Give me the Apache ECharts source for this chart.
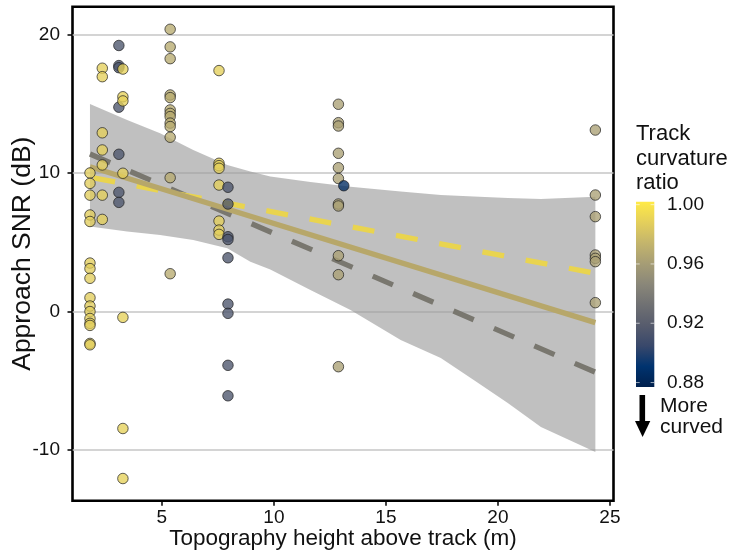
<!DOCTYPE html>
<html>
<head>
<meta charset="utf-8">
<script src="https://cdn.jsdelivr.net/npm/echarts@6/dist/echarts.min.js"></script>
<style>
  html, body { margin: 0; padding: 0; background: #ffffff; }
  #chart { width: 735px; height: 558px; }
</style>
</head>
<body>
<div id="chart"></div>
<script>
// Cividis palette used for the track curvature ratio
const cividis = ['#00204D', '#00336F', '#39486B', '#575C6D', '#707173',
                 '#8A8779', '#A69D75', '#C4B56C', '#E4CF5B', '#FFEA46'];
const ratioRange = [0.877, 1.002];
const colorTicks = [1.00, 0.96, 0.92, 0.88];

// Axis ticks
const xTicks = [5, 10, 15, 20, 25];
const yTicks = [-10, 0, 10, 20];

// Observation sites: topography height (m) and curvature ratio of the tracks there
const siteHeight = [1.79, 2.34, 3.08, 3.26, 5.37, 7.55, 7.95, 12.88, 13.12, 24.35];
const siteRatio  = [0.987, 0.988, 0.913, 0.989, 0.968, 0.988, 0.913, 0.962, 0.885, 0.962];

// Approach SNR (dB) of each track at each site
const siteSnr = [
  [10.0, 9.25, 8.4, 6.97, 6.5, 3.5, 3.1, 2.4, 1.0, 0.4, 0.0, -0.5, -0.85, -1.0, -2.3, -2.4],
  [17.56, 16.95, 12.9, 11.66, 10.58, 8.4, 6.65],
  [19.2, 17.75, 17.6, 14.75, 11.35, 8.6, 7.88],
  [17.5, 15.5, 15.2, 9.98, -0.42, -8.44, -12.05],
  [20.37, 19.1, 18.25, 15.63, 15.44, 14.55, 14.3, 14.07, 13.6, 13.35, 12.58, 9.66, 2.73],
  [17.39, 10.7, 10.53, 10.34, 9.13, 6.53, 5.88, 5.57],
  [8.97, 7.76, 5.4, 5.2, 3.88, 0.54, -0.13, -3.88, -6.08],
  [14.96, 13.63, 13.39, 11.42, 10.38, 9.6, 7.76, 7.62, 4.03, 2.66, -3.98],
  [9.08],
  [13.1, 8.41, 6.85, 4.08, 3.84, 3.6, 0.64]
];

// Linear fits: all tracks, curved tracks, straight tracks
const fitHeight   = [1.79, 24.35];
const fitAll      = [10.45, -0.8];
const fitCurved   = [11.37, -4.38];
const fitStraight = [9.7, 2.76];

// Confidence band of the overall fit
const bandHeight = [1.79, 3.45, 4.92, 6.40, 7.92, 8.95, 9.84, 11.63, 13.42, 15.66, 17.45, 18.92, 20.44, 21.92, 24.35];
const bandUpper  = [14.98, 13.83, 12.87, 11.66, 10.58, 10.10, 9.74, 9.35, 9.01, 8.67, 8.42, 8.31, 8.20, 8.13, 8.29];
const bandLower  = [6.13, 5.77, 5.53, 5.17, 4.57, 3.60, 3.04, 1.56, 0.12, -2.05, -3.35, -4.94, -6.60, -8.33, -10.13];

const FONT = "'Liberation Sans', Arial, Helvetica, sans-serif";

const points = [];
siteSnr.forEach((list, i) => {
  list.forEach(v => points.push([siteHeight[i], v, siteRatio[i]]));
});

const toPairs = (xs, ys) => xs.map((x, i) => [x, ys[i]]);

// Colour bar geometry
const bar = { x: 636, y: 201.7, w: 18.3, h: 185.3 };
const ratioToY = v => bar.y + (ratioRange[1] - v) / (ratioRange[1] - ratioRange[0]) * bar.h;
const barStops = cividis.map((c, i) => ({ offset: 1 - i / (cividis.length - 1), color: c }));

const graphics = [
  { type: 'text', left: 636, top: 122, style: { text: 'Track\ncurvature\nratio', font: '22px ' + FONT, fill: '#111', lineHeight: 24.5 } },
  { type: 'rect', shape: { x: bar.x, y: bar.y, width: bar.w, height: bar.h },
    style: { fill: new echarts.graphic.LinearGradient(0, 0, 0, 1, barStops.slice().reverse()) } }
];
colorTicks.forEach(v => {
  const y = ratioToY(v);
  graphics.push({ type: 'line', shape: { x1: bar.x, y1: y, x2: bar.x + 3.7, y2: y }, style: { stroke: 'rgba(255,255,255,0.6)', lineWidth: 1 } });
  graphics.push({ type: 'line', shape: { x1: bar.x + bar.w - 3.7, y1: y, x2: bar.x + bar.w, y2: y }, style: { stroke: 'rgba(255,255,255,0.6)', lineWidth: 1 } });
  graphics.push({ type: 'text', x: 667, y: y, style: { text: v.toFixed(2), font: '19px ' + FONT, fill: '#111', verticalAlign: 'middle' } });
});
// "More curved" arrow
graphics.push({ type: 'rect', shape: { x: 639.5, y: 395, width: 5.6, height: 27 }, style: { fill: '#000' } });
graphics.push({ type: 'polygon', shape: { points: [[635, 421], [650.3, 421], [642.6, 437]] }, style: { fill: '#000' } });
graphics.push({ type: 'text', left: 660, top: 395, style: { text: 'More\ncurved', font: '21px ' + FONT, fill: '#111', lineHeight: 21.5 } });

const chart = echarts.init(document.getElementById('chart'), null, { renderer: 'canvas' });

chart.setOption({
  animation: false,
  backgroundColor: '#ffffff',
  grid: {
    left: 72.5, right: 121.5, top: 6.7, bottom: 57.3,
    containLabel: false, outerBoundsMode: 'none',
    show: true, borderColor: '#000', borderWidth: 2.6, backgroundColor: 'transparent'
  },
  xAxis: {
    type: 'value', min: 1.01, max: 25.16,
    name: 'Topography height above track (m)', nameLocation: 'middle', nameGap: 27,
    nameMoveOverlap: false,
    nameTextStyle: { fontFamily: FONT, fontSize: 22.5, color: '#111' },
    axisLine: { show: false, onZero: false },
    axisTick: { show: true, length: 5, customValues: xTicks, lineStyle: { color: '#000', width: 1.5 } },
    axisLabel: { customValues: xTicks, fontFamily: FONT, fontSize: 19, color: '#111', margin: 8 },
    splitLine: { show: false }
  },
  yAxis: {
    type: 'value', min: -13.65, max: 22.0,
    name: 'Approach SNR (dB)', nameLocation: 'middle', nameGap: 36.5,
    nameMoveOverlap: false,
    nameTextStyle: { fontFamily: FONT, fontSize: 26.5, color: '#111' },
    axisLine: { show: false, onZero: false },
    axisTick: { show: true, length: 5, customValues: yTicks, lineStyle: { color: '#000', width: 1.5 } },
    axisLabel: { customValues: yTicks, fontFamily: FONT, fontSize: 19, color: '#111', margin: 12.5 },
    splitLine: { show: true, lineStyle: { color: '#c6c6c6', width: 1.5 } }
  },
  visualMap: {
    type: 'continuous', show: false, dimension: 2, seriesIndex: 4,
    min: ratioRange[0], max: ratioRange[1], inRange: { color: cividis }
  },
  graphic: graphics,
  series: [
    {
      type: 'custom', silent: true, z: 1,
      data: [[bandHeight[0], bandUpper[0]]],
      renderItem: function (params, api) {
        const pts = [];
        bandHeight.forEach((h, i) => pts.push(api.coord([h, bandUpper[i]])));
        for (let i = bandHeight.length - 1; i >= 0; i--) pts.push(api.coord([bandHeight[i], bandLower[i]]));
        return { type: 'polygon', shape: { points: pts }, style: { fill: 'rgba(153,153,153,0.62)' } };
      }
    },
    {
      type: 'line', silent: true, symbol: 'none', z: 2,
      data: toPairs(fitHeight, fitCurved),
      lineStyle: { color: '#79776f', width: 5.3, type: [22, 22], cap: 'butt' }
    },
    {
      type: 'line', silent: true, symbol: 'none', z: 2,
      data: toPairs(fitHeight, fitStraight),
      lineStyle: { color: '#e9d44f', width: 5.3, type: [22, 22], dashOffset: 40.5, cap: 'butt' }
    },
    {
      type: 'line', silent: true, symbol: 'none', z: 2,
      data: toPairs(fitHeight, fitAll),
      lineStyle: { color: '#b7a76a', width: 5.3, cap: 'butt' }
    },
    {
      type: 'scatter', silent: true, z: 3,
      data: points, symbolSize: 10.5,
      itemStyle: { opacity: 0.78, borderColor: '#1c1c1c', borderWidth: 0.9 }
    }
  ]
});
</script>
</body>
</html>
